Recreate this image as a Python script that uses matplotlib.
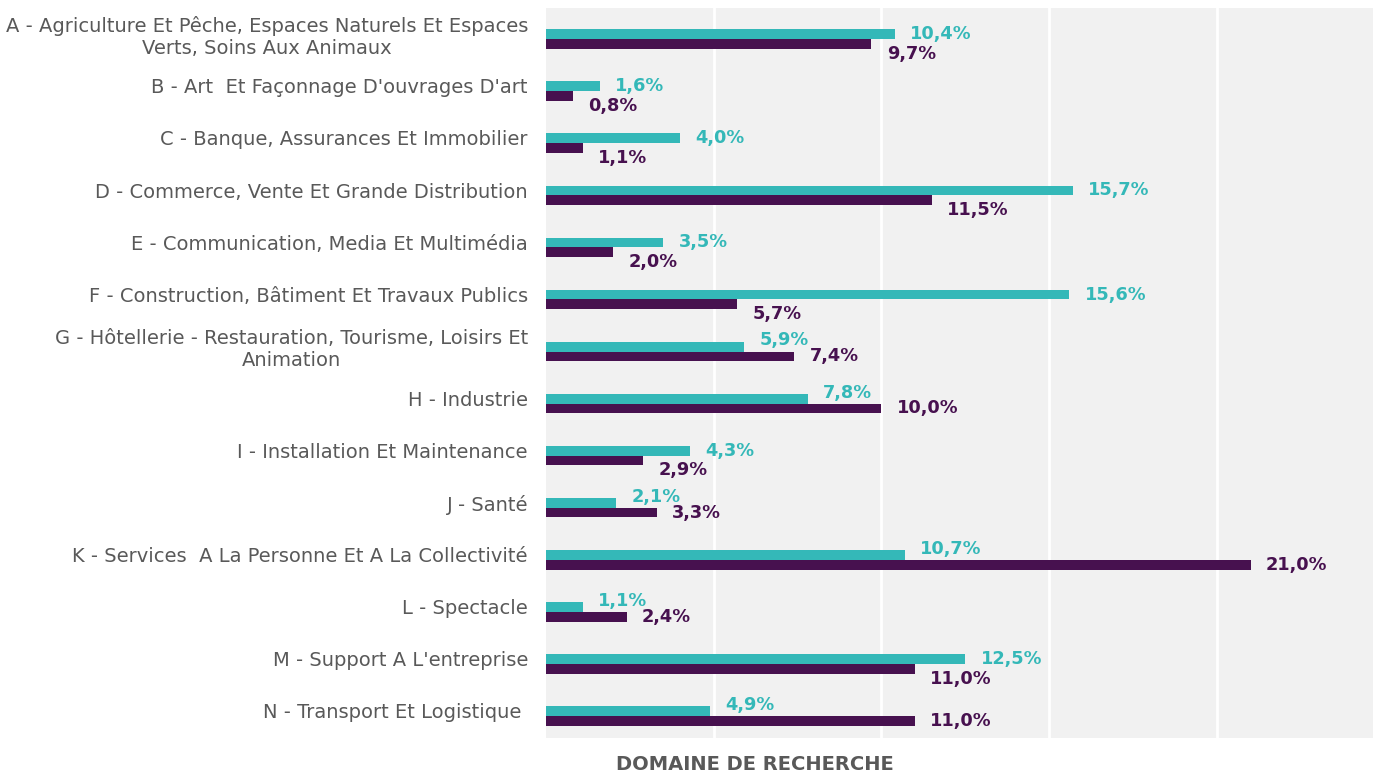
import numpy as np
import matplotlib.pyplot as plt

plt.rcParams['font.family'] = ['DejaVu Sans']

categories = [
    "A - Agriculture Et Pêche, Espaces Naturels Et Espaces\nVerts, Soins Aux Animaux",
    "B - Art  Et Façonnage D'ouvrages D'art",
    "C - Banque, Assurances Et Immobilier",
    "D - Commerce, Vente Et Grande Distribution",
    "E - Communication, Media Et Multimédia",
    "F - Construction, Bâtiment Et Travaux Publics",
    "G - Hôtellerie - Restauration, Tourisme, Loisirs Et\nAnimation",
    "H - Industrie",
    "I - Installation Et Maintenance",
    "J - Santé",
    "K - Services  A La Personne Et A La Collectivité",
    "L - Spectacle",
    "M - Support A L'entreprise",
    "N - Transport Et Logistique ",
]
teal_vals = [10.4, 1.6, 4.0, 15.7, 3.5, 15.6, 5.9, 7.8, 4.3, 2.1, 10.7, 1.1, 12.5, 4.9]
purple_vals = [9.7, 0.8, 1.1, 11.5, 2.0, 5.7, 7.4, 10.0, 2.9, 3.3, 21.0, 2.4, 11.0, 11.0]
title = "DOMAINE DE RECHERCHE"

teal = "#34B8B8"
purple = "#47114F"
grey = "#595959"

fig = plt.figure(figsize=(13.73, 7.71), dpi=100)
ax = fig.add_axes([546 / 1373, 1 - 738 / 771, 1 - 546 / 1373, 730 / 771])
ax.set_facecolor("#F1F1F1")

y = np.arange(len(categories))
h = 0.186
ax.barh(y - h / 2, teal_vals, height=h, color=teal, zorder=3)
ax.barh(y + h / 2, purple_vals, height=h, color=purple, zorder=3)

# value labels; the shorter bar's label is nudged away from the other one
fmt = lambda v: ("%.1f%%" % v).replace(".", ",")
for i, (t, p) in enumerate(zip(teal_vals, purple_vals)):
    t_dy = 0 if t >= p else 4.5
    p_dy = 0 if p > t else -7
    ax.annotate(fmt(t), (t, i - h / 2), xytext=(11, t_dy), textcoords="offset points",
                va="center", ha="left", color=teal, fontsize=12.8, fontweight="bold")
    ax.annotate(fmt(p), (p, i + h / 2), xytext=(11, p_dy), textcoords="offset points",
                va="center", ha="left", color=purple, fontsize=12.8, fontweight="bold")

ax.set_xlim(0, 24.65)
ax.set_ylim(13.42, -0.595)
ax.set_xticks([5, 10, 15, 20])
ax.set_xticklabels([])
ax.grid(axis="x", color="white", linewidth=2, zorder=1)
ax.set_yticks(y - 0.1)
ax.set_yticklabels(categories, fontsize=14, color=grey, multialignment="center",
                   linespacing=1.15)
ax.tick_params(length=0, pad=13)
for s in ax.spines.values():
    s.set_visible(False)

fig.text(755 / 1373, 1 - 764 / 771, title, ha="center", va="center",
         fontsize=14, fontweight="bold", color=grey)

fig.savefig("out.png")
